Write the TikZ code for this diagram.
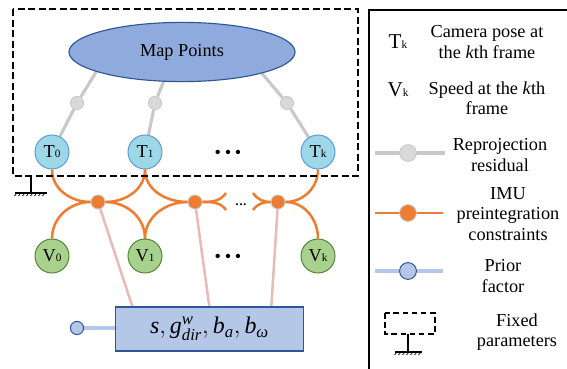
\documentclass[tikz,border=0pt]{standalone}
\usepackage{fontspec}
\setmainfont{Liberation Serif}
\usepackage{amsmath}
\usetikzlibrary{positioning}
\usetikzlibrary{calc}
\usetikzlibrary{shapes.geometric}
\usetikzlibrary{backgrounds}
\definecolor{mapfill}{RGB}{143,170,220}
\definecolor{mapdraw}{RGB}{47,85,151}
\definecolor{posefill}{RGB}{157,215,232}
\definecolor{posedraw}{RGB}{91,155,213}
\definecolor{speedfill}{RGB}{169,209,142}
\definecolor{speeddraw}{RGB}{84,130,53}
\definecolor{reprojfill}{RGB}{217,217,217}
\definecolor{reprojline}{RGB}{200,200,200}
\definecolor{imuorange}{RGB}{237,125,49}
\definecolor{linkpink}{RGB}{232,186,184}
\definecolor{statefill}{RGB}{180,199,231}
\newcommand{\sublbl}[2]{#1{\fontsize{8}{8}\selectfont #2}}
\newcommand{\dotrow}{\textbullet\hspace{2.6pt}\textbullet\hspace{2.6pt}\textbullet}

\tikzset{
    pose/.style={circle, draw=posedraw, fill=posefill, line width=0.7pt, minimum size=0.85cm, inner sep=0pt},
    speed/.style={circle, draw=speeddraw, fill=speedfill, line width=0.7pt, minimum size=0.85cm, inner sep=0pt},
    reproj/.style={circle, draw=reprojline, fill=reprojfill, line width=0.6pt, minimum size=0.33cm, inner sep=0pt},
    imu/.style={circle, draw=reprojline, fill=imuorange, line width=0.6pt, minimum size=0.35cm, inner sep=0pt},
    prior/.style={circle, draw=mapdraw, fill=statefill, line width=0.7pt, minimum size=0.33cm, inner sep=0pt},
    reprojedge/.style={draw=reprojline, line width=2.2pt},
    imuedge/.style={draw=imuorange, line width=1.8pt},
    linkedge/.style={draw=linkpink, line width=1.8pt},
    prioredge/.style={draw=statefill, line width=2.2pt},
    fixedbox/.style={draw=black, line width=0.9pt, dash pattern=on 5pt off 2.5pt},
    legendtext/.style={align=center, inner sep=0pt}
}

\begin{document}
\begin{tikzpicture}[x=0.025cm, y=0.025cm, font=\fontsize{13}{14.5}\selectfont]
    \useasboundingbox (0,0) rectangle (567,369);

    % map points and camera poses
    \node[ellipse, draw=mapdraw, fill=mapfill, line width=0.8pt, minimum width=5.65cm, minimum height=1.48cm, inner sep=0pt] (map) at (182,317) {Map Points};
    \node[pose] (T0) at (52,217) {\sublbl{T}{0}};
    \node[pose] (T1) at (145,217) {\sublbl{T}{1}};
    \node[pose] (Tk) at (318,217) {\sublbl{T}{k}};
    \node (dotsT) at (228,215) {\dotrow};

    % reprojection residuals
    \node[reproj] (r0) at (77,266) {};
    \node[reproj] (r1) at (155,266) {};
    \node[reproj] (rk) at (287,266) {};

    % IMU preintegration factors
    \node[imu] (o1) at (98,167) {};
    \node[imu] (o2) at (195,167) {};
    \node[imu] (o3) at (278,167) {};
    \coordinate (a2) at (226,176);
    \coordinate (b2) at (226,159);
    \coordinate (a3) at (253,176);
    \coordinate (b3) at (253,159);
    \node[font=\fontsize{6}{6}\selectfont] (dotsO) at (241,163) {\textbullet\hspace{0.6pt}\textbullet\hspace{0.6pt}\textbullet};

    % speeds
    \node[speed] (V0) at (52,113) {\sublbl{V}{0}};
    \node[speed] (V1) at (145,113) {\sublbl{V}{1}};
    \node[speed] (Vk) at (318,113) {\sublbl{V}{k}};
    \node (dotsV) at (228,111) {\dotrow};

    % states and prior
    \node[draw=mapdraw, fill=statefill, line width=0.8pt, minimum width=4.68cm, minimum height=1.1cm, inner sep=0pt, font=\fontsize{17}{19}\selectfont] (state) at (209.5,40)
        {$\text{\itshape s}, \text{\itshape g}^{\text{\itshape w}}_{\text{\itshape dir}}, \text{\itshape b}_{\text{\itshape a}}, \text{\itshape b}_{\text{\itshape ω}}$};
    \node[prior] (p) at (77,41) {};

    \begin{scope}[on background layer]
    \draw[reprojedge] (T0) -- (r0) -- (map.193);
    \draw[reprojedge] (T1) -- (r1) -- (map.238);
    \draw[reprojedge] (Tk) -- (rk) -- (map.345);

    \draw[imuedge] (T0) to[out=-90,in=180] (o1);
    \draw[imuedge] (V0) to[out=90,in=180] (o1);
    \draw[imuedge] (T1) to[out=-90,in=0] (o1);
    \draw[imuedge] (V1) to[out=90,in=0] (o1);
    \draw[imuedge] (T1) to[out=-90,in=180] (o2);
    \draw[imuedge] (V1) to[out=90,in=180] (o2);
    \draw[imuedge] (o2) to[out=0,in=235] (a2);
    \draw[imuedge] (o2) to[out=0,in=125] (b2);
    \draw[imuedge] (a3) to[out=-55,in=180] (o3);
    \draw[imuedge] (b3) to[out=55,in=180] (o3);
    \draw[imuedge] (o3) to[out=0,in=-90] (Tk);
    \draw[imuedge] (o3) to[out=0,in=90] (Vk);

    \draw[linkedge] (o1) -- ($(state.north west)+(17,0)$);
    \draw[linkedge] (o2) -- ($(state.north west)+(94,0)$);
    \draw[linkedge] (o3) -- ($(state.north west)+(156,0)$);
    \draw[prioredge] (p) -- (p -| state.west);
    \end{scope}

    % fixed parameters
    \draw[fixedbox] (13,360) rectangle (358,193);
    \draw[line width=0.8pt] (31,193) -- (31,176);
    \draw[line width=0.8pt] (15,176) -- (47,176);
    \foreach \i in {0,...,7}
        \draw[line width=0.5pt] (17+4*\i,176) -- ++(-2.5,-3);

    % legend
    \draw[line width=0.9pt] (369,0) -- (369,359) -- (567,359);
    \node[font=\fontsize{15}{15}\selectfont] (legT) at (398,327) {T{\fontsize{8}{8}\selectfont k}};
    \node[legendtext] (legTtext) at (487,327) {Camera pose at\\the \textit{k}th frame};
    \node[font=\fontsize{15}{15}\selectfont] (legV) at (398,279) {V{\fontsize{8}{8}\selectfont k}};
    \node[legendtext] (legVtext) at (487,271) {Speed at the \textit{k}th\\frame};

    \coordinate (lr1) at (375,216);
    \coordinate (lr2) at (445,216);
    \node[reproj, minimum size=0.42cm] (legr) at (408,216) {};
    \begin{scope}[on background layer]
    \draw[reprojedge] (lr1) -- (lr2);
    \end{scope}
    \node[legendtext] (legrtext) at (500,214) {Reprojection\\residual};

    \coordinate (li1) at (375,156);
    \coordinate (li2) at (443,156);
    \node[imu, minimum size=0.42cm] (legi) at (408,156) {};
    \begin{scope}[on background layer]
    \draw[imuedge] (li1) -- (li2);
    \end{scope}
    \node[legendtext] (legitext) at (508,155) {IMU\\preintegration\\constraints};

    \coordinate (lp1) at (375,98);
    \coordinate (lp2) at (443,98);
    \node[prior, minimum size=0.42cm] (legp) at (408,98) {};
    \begin{scope}[on background layer]
    \draw[prioredge] (lp1) -- (lp2);
    \end{scope}
    \node[legendtext] (legptext) at (503,93) {Prior\\factor};

    \draw[fixedbox, dash pattern=on 4pt off 2.5pt] (385,56) rectangle (435,35);
    \draw[line width=0.8pt] (408,35) -- (408,17);
    \draw[line width=0.8pt] (395,17) -- (422,17);
    \foreach \i in {0,...,6}
        \draw[line width=0.5pt] (397+4*\i,17) -- ++(-2.5,-3);
    \node[legendtext] (legftext) at (517,37) {Fixed\\parameters};
\end{tikzpicture}
\end{document}
